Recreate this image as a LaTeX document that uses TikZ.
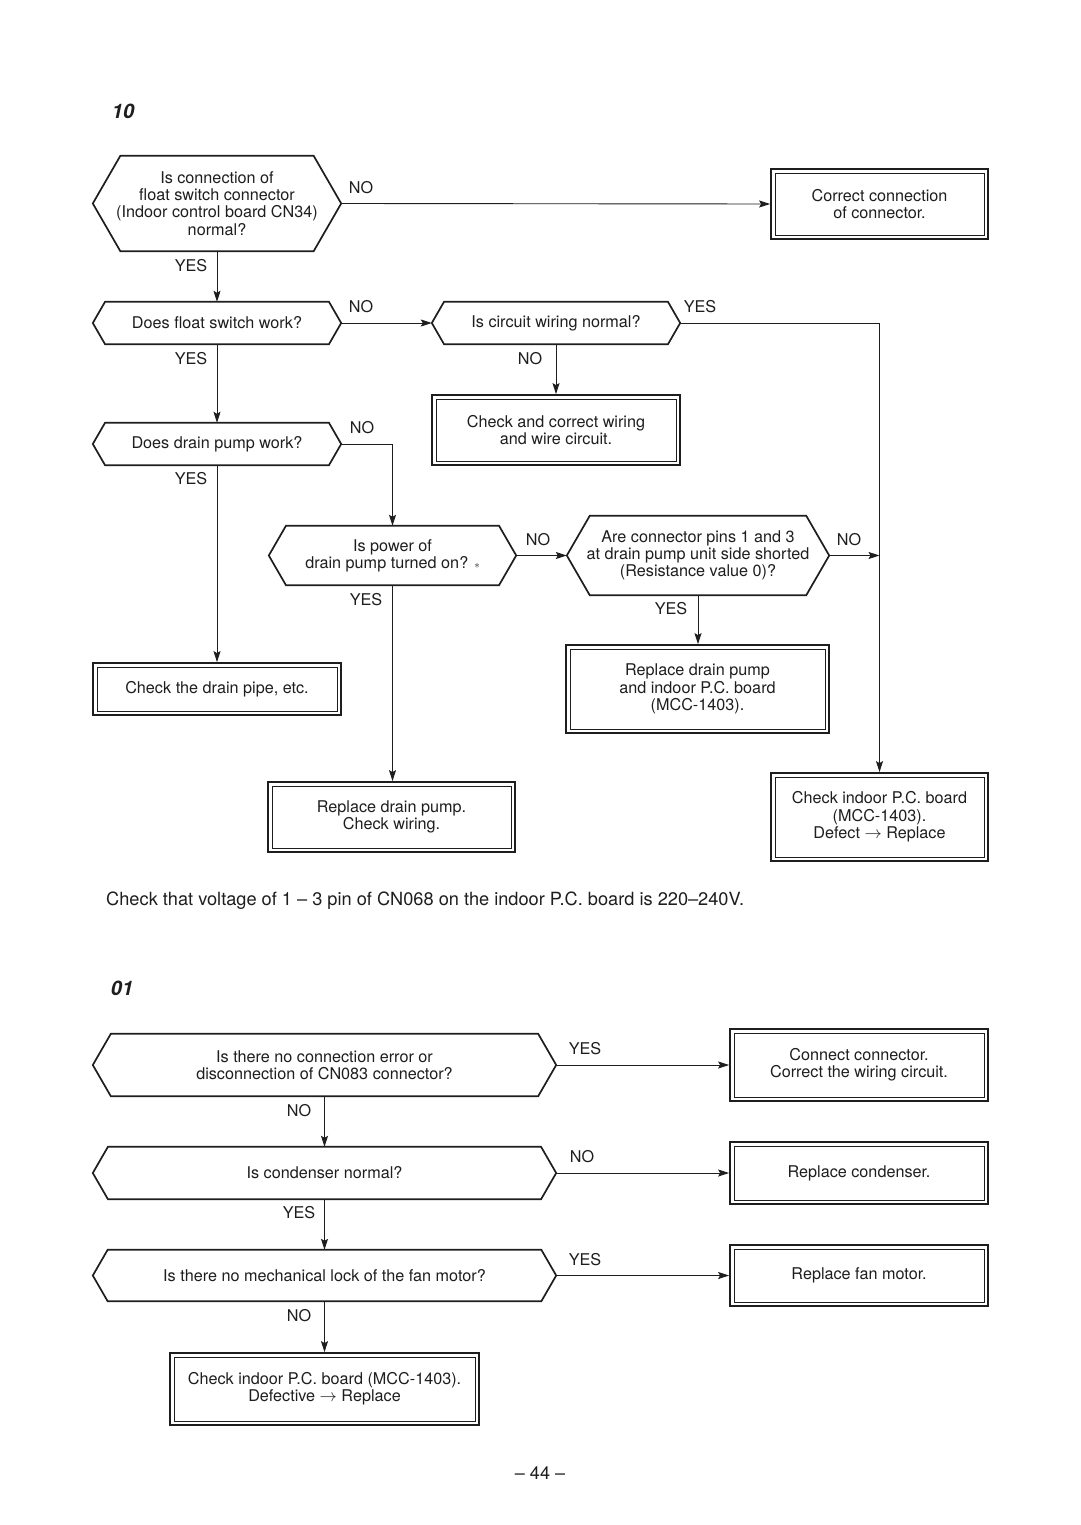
\documentclass[tikz,border=0pt]{standalone}
\usepackage{fontspec}
\setmainfont{TeX Gyre Heros}
\usetikzlibrary{calc,arrows.meta}
\definecolor{ink}{HTML}{1E1E1E}
\newcommand\hexa[1]{\draw[shapeline] let \p1=(#1.north west), \p2=(#1.south east), \n1={0.2887*abs(\y1-\y2)} in (#1.west) -- ({\x1+\n1},\y1) -- ({\x2-\n1},\y1) -- (#1.east) -- ({\x2-\n1},\y2) -- ({\x1+\n1},\y2) -- cycle;}
\newcommand\innerbox[1]{\draw[innerline] ($(#1.north west)+(5,5)$) rectangle ($(#1.south east)+(-5,-5)$);}
\begin{document}
\begin{tikzpicture}[x=1pt,y=-1pt,
  base/.style={font=\fontsize{16.2}{17.3}\selectfont, align=center, inner sep=0pt, text=ink},
  hexbox/.style={base},
  rbox/.style={base, draw=ink, line width=1.8pt},
  shapeline/.style={draw=ink, line width=1.7pt, line join=miter},
  innerline/.style={draw=ink, line width=0.7pt},
  conn/.style={draw=ink, line width=0.9pt, -{Stealth[length=11pt,width=7pt,inset=2pt]}},
  lab/.style={font=\fontsize{16.2}{17}\selectfont, inner sep=0pt, text=ink},
  title/.style={font=\fontsize{20}{22}\selectfont\bfseries\itshape, inner sep=0pt, text=ink}
]
\useasboundingbox[fill=white] (0,0) rectangle (1080,1525);

% ---------- section 10 ----------
\node[title] (t1) at (123,111) {10};

\node[hexbox, minimum width=248pt, minimum height=95pt] (D1) at (217,203.5)
  {Is connection of\\float switch connector\\(Indoor control board CN34)\\normal?};
\hexa{D1}
\node[rbox, minimum width=217pt, minimum height=70pt] (R1) at (879.5,204)
  {Correct connection\\of connector.};
\innerbox{R1}

\node[hexbox, minimum width=248pt, minimum height=42pt] (D2) at (217,323) {Does float switch work?};
\hexa{D2}
\node[hexbox, minimum width=248pt, minimum height=42pt] (D3) at (556,323) {Is circuit wiring normal?};
\hexa{D3}
\node[rbox, minimum width=248pt, minimum height=70pt] (R2) at (556,430)
  {Check and correct wiring\\and wire circuit.};
\innerbox{R2}
\node[hexbox, minimum width=248pt, minimum height=42pt] (D4) at (217,444) {Does drain pump work?};
\hexa{D4}
\node[rbox, minimum width=248pt, minimum height=52pt] (R3) at (217,689) {Check the drain pipe, etc.};
\innerbox{R3}
\node[hexbox, minimum width=247pt, minimum height=59pt] (D5) at (392.5,555.5)
  {Is power of\\drain pump turned on? {\fontsize{11}{11}\selectfont$\ast$}};
\hexa{D5}
\node[hexbox, minimum width=262pt, minimum height=79pt] (D6) at (698,555.5)
  {Are connector pins 1 and 3\\at drain pump unit side shorted\\(Resistance value 0)?};
\hexa{D6}
\node[rbox, minimum width=263pt, minimum height=88pt] (R4) at (697.5,689)
  {Replace drain pump\\and indoor P.C. board\\(MCC-1403).};
\innerbox{R4}
\node[rbox, minimum width=247pt, minimum height=70pt] (R5) at (391.5,817)
  {Replace drain pump.\\Check wiring.};
\innerbox{R5}
\node[rbox, minimum width=217pt, minimum height=88pt] (R6) at (879.5,817)
  {Check indoor P.C. board\\(MCC-1403).\\Defect $\rightarrow$ Replace};
\innerbox{R6}

% connectors
\draw[conn] (D1.east) -- (R1.west);
\draw[conn] (D1.south) -- (D2.north);
\draw[conn] (D2.east) -- (D3.west);
\draw[conn] (D3.east) -| (R6.north);
\draw[conn] (D3.south) -- (R2.north);
\draw[conn] (D2.south) -- (D4.north);
\draw[conn] (D4.east) -| (D5.north);
\draw[conn] (D4.south) -- (R3.north);
\draw[conn] (D5.east) -- (D6.west);
\draw[conn] (D5.south) -- (D5.south |- R5.north);
\draw[conn] (D6.east) -- (D6.east -| R6.north);
\draw[conn] (D6.south) -- (D6.south |- R4.north);

% labels
\node[lab] (l1) at (361,188) {NO};
\node[lab] (l2) at (191,266) {YES};
\node[lab] (l3) at (361,307) {NO};
\node[lab] (l4) at (700,307) {YES};
\node[lab] (l5) at (530,359) {NO};
\node[lab] (l6) at (191,359) {YES};
\node[lab] (l7) at (362,428) {NO};
\node[lab] (l8) at (191,479) {YES};
\node[lab] (l9) at (538,540) {NO};
\node[lab] (l10) at (366,600) {YES};
\node[lab] (l11) at (849,540) {NO};
\node[lab] (l12) at (671,609) {YES};

\node[lab, anchor=west, font=\fontsize{18.2}{20}\selectfont] (note) at (106,901)
  {Check that voltage of 1 -- 3 pin of CN068 on the indoor P.C. board is 220--240V.};

% ---------- section 01 ----------
\node[title] (t2) at (122,988) {01};

\node[hexbox, minimum width=463pt, minimum height=62pt] (E1) at (324.5,1065)
  {Is there no connection error or\\disconnection of CN083 connector?};
\hexa{E1}
\node[rbox, minimum width=258pt, minimum height=72pt] (S1) at (859,1065)
  {Connect connector.\\Correct the wiring circuit.};
\innerbox{S1}
\node[hexbox, minimum width=463pt, minimum height=52pt] (E2) at (324.5,1173) {Is condenser normal?};
\hexa{E2}
\node[rbox, minimum width=258pt, minimum height=62pt] (S2) at (859,1173) {Replace condenser.};
\innerbox{S2}
\node[hexbox, minimum width=463pt, minimum height=51pt] (E3) at (324.5,1275.5)
  {Is there no mechanical lock of the fan motor?};
\hexa{E3}
\node[rbox, minimum width=258pt, minimum height=61pt] (S3) at (859,1275.5) {Replace fan motor.};
\innerbox{S3}
\node[rbox, minimum width=309pt, minimum height=72pt] (S4) at (324.5,1389)
  {Check indoor P.C. board (MCC-1403).\\Defective $\rightarrow$ Replace};
\innerbox{S4}

\draw[conn] (E1.east) -- (S1.west);
\draw[conn] (E1.south) -- (E2.north);
\draw[conn] (E2.east) -- (S2.west);
\draw[conn] (E2.south) -- (E3.north);
\draw[conn] (E3.east) -- (S3.west);
\draw[conn] (E3.south) -- (S4.north);

\node[lab] (m1) at (585,1049) {YES};
\node[lab] (m2) at (299,1111) {NO};
\node[lab] (m3) at (582,1157) {NO};
\node[lab] (m4) at (299,1213) {YES};
\node[lab] (m5) at (585,1260) {YES};
\node[lab] (m6) at (299,1316) {NO};

\node[lab, font=\fontsize{18}{20}\selectfont] (page) at (540,1473) {-- 44 --};
\end{tikzpicture}
\end{document}
